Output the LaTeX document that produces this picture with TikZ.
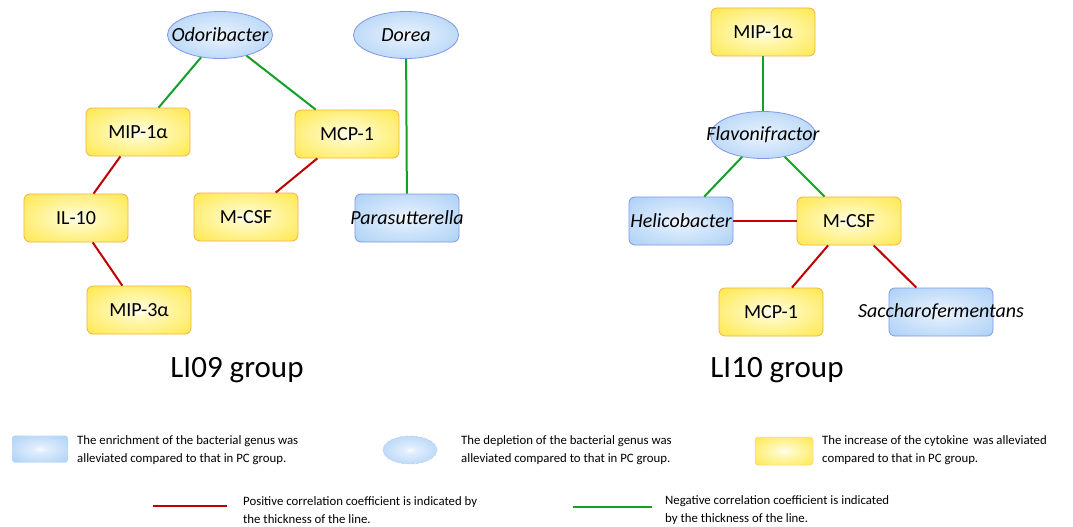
\documentclass[tikz,border=0pt]{standalone}
\usepackage{fontspec}
\setmainfont{Carlito}
\usetikzlibrary{shapes.geometric}
\definecolor{posred}{RGB}{192,0,0}
\definecolor{neggreen}{RGB}{20,160,40}
\definecolor{cytoborder}{RGB}{245,175,70}
\definecolor{bactborder}{RGB}{130,150,230}
\pgfdeclareradialshading{ylwshade}{\pgfpoint{0bp}{0bp}}{rgb(0bp)=(1,1,0.97); rgb(6bp)=(1,0.98,0.78); rgb(40bp)=(1,0.9,0.22); rgb(50bp)=(1,0.9,0.22)}
\pgfdeclareradialshading{blushade}{\pgfpoint{0bp}{0bp}}{rgb(0bp)=(0.98,0.99,1); rgb(6bp)=(0.88,0.93,0.99); rgb(40bp)=(0.64,0.8,0.96); rgb(50bp)=(0.64,0.8,0.96)}
\tikzset{
  cyto/.style={rectangle, rounded corners=6pt, draw=cytoborder, line width=0.8pt, shade, shading=ylwshade,
    minimum width=104pt, minimum height=48pt, inner sep=0pt, font=\fontsize{20}{21}\selectfont},
  bact/.style={rectangle, rounded corners=6pt, draw=bactborder, line width=0.8pt, shade, shading=blushade,
    minimum width=104pt, minimum height=48pt, inner sep=0pt, font=\fontsize{20}{21}\selectfont\itshape},
  genus/.style={ellipse, draw=bactborder, line width=0.8pt, shade, shading=blushade,
    minimum width=105pt, minimum height=47pt, inner sep=0pt, font=\fontsize{20}{21}\selectfont\itshape},
  posline/.style={draw=posred, line width=2pt},
  negline/.style={draw=neggreen, line width=2pt},
  grouplabel/.style={font=\fontsize{31}{33}\selectfont, inner sep=0pt},
  legtext/.style={anchor=west, align=left, inner sep=0pt, font=\fontsize{12.8}{18}\selectfont},
}
\newcommand{\lbl}[1]{\makebox[0pt]{#1}}
\begin{document}
\begin{tikzpicture}[x=1pt,y=-1pt]
\fill[white] (0,0) rectangle (1073,527);
\useasboundingbox (0,0) rectangle (1073,527);

% LI09 group
\node[genus] (odo) at (220,35) {\lbl{Odoribacter}};
\node[genus] (dor) at (406,35) {\lbl{Dorea}};
\node[cyto] (mip1a) at (138,132) {\lbl{MIP-1α}};
\node[cyto] (mcp1a) at (347,134) {\lbl{MCP-1}};
\node[cyto] (il10) at (76,218) {\lbl{IL-10}};
\node[cyto] (mcsfa) at (246,217) {\lbl{M-CSF}};
\node[bact] (para) at (407,218) {\lbl{Parasutterella}};
\node[cyto] (mip3a) at (139,310) {\lbl{MIP-3α}};
\node[grouplabel] (g1) at (237,370) {LI09 group};

\draw[negline] (odo) -- (mip1a);
\draw[negline] (odo) -- (mcp1a);
\draw[negline] (dor) -- (para);
\draw[posline] (mip1a) -- (il10);
\draw[posline] (il10) -- (mip3a);
\draw[posline] (mcp1a) -- (mcsfa);

% LI10 group
\node[cyto] (mip1b) at (763,32) {\lbl{MIP-1α}};
\node[genus] (flav) at (763,135) {\lbl{Flavonifractor}};
\node[bact] (heli) at (681,221) {\lbl{Helicobacter}};
\node[cyto] (mcsfb) at (849,221) {\lbl{M-CSF}};
\node[cyto] (mcp1b) at (771,312) {\lbl{MCP-1}};
\node[bact] (sacc) at (941,312) {\lbl{Saccharofermentans}};
\node[grouplabel] (g2) at (777,370) {LI10 group};

\draw[negline] (mip1b) -- (flav);
\draw[negline] (flav) -- (heli);
\draw[negline] (flav) -- (mcsfb);
\draw[posline] (heli) -- (mcsfb);
\draw[posline] (mcsfb) -- (mcp1b);
\draw[posline] (mcsfb) -- (sacc);

% Legend
\node[rectangle, rounded corners=3pt, shade, shading=blushade, minimum width=56pt, minimum height=27pt, inner sep=0pt] (lb) at (40,449) {};
\node[legtext] (lbt) at (77,450) {The enrichment of the bacterial genus was\\alleviated compared to that in PC group.};
\node[ellipse, draw=bactborder!50, densely dashed, line width=0.5pt, shade, shading=blushade, minimum width=54pt, minimum height=28pt, inner sep=0pt] (le) at (410,450) {};
\node[legtext] (let) at (461,450) {The depletion of the bacterial genus was\\alleviated compared to that in PC group.};
\node[rectangle, rounded corners=3pt, draw=cytoborder!60, line width=0.5pt, shade, shading=ylwshade, minimum width=58pt, minimum height=28pt, inner sep=0pt] (ly) at (784,451) {};
\node[legtext] (lyt) at (822,450) {The increase of the cytokine\, was alleviated\\compared to that in PC group.};

\coordinate (r1) at (153,506);
\coordinate (r2) at (227,506);
\draw[posline, line width=2.5pt] (r1) -- (r2);
\node[legtext] (lrt) at (243,510) {Positive correlation coefficient is indicated by\\the thickness of the line.};
\coordinate (n1) at (573,507);
\coordinate (n2) at (652,507);
\draw[negline, line width=2.5pt] (n1) -- (n2);
\node[legtext] (lnt) at (665,510) {Negative correlation coefficient is indicated\\by the thickness of the line.};
\end{tikzpicture}
\end{document}
